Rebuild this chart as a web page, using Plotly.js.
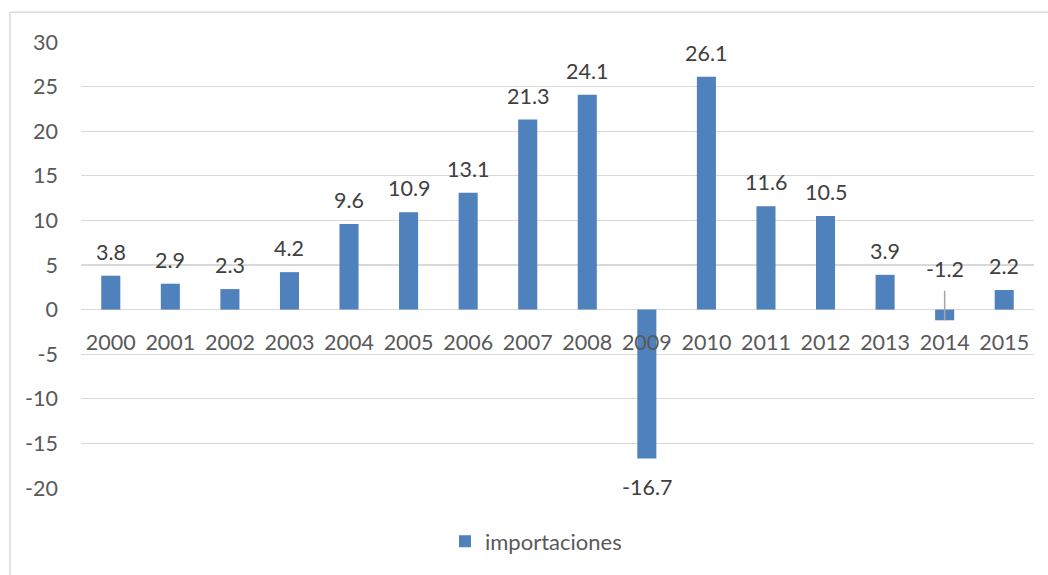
<!DOCTYPE html>
<html>
<head>
<meta charset="utf-8">
<script src="https://cdn.plot.ly/plotly-3.0.1.min.js"></script>
<style>html,body{margin:0;padding:0;background:#fff;}#chart{width:1048px;height:575px;}</style>
</head>
<body>
<div id="chart"></div>
<script>
const years = ["2000","2001","2002","2003","2004","2005","2006","2007","2008","2009","2010","2011","2012","2013","2014","2015"];
const importaciones = [3.8, 2.9, 2.3, 4.2, 9.6, 10.9, 13.1, 21.3, 24.1, -16.7, 26.1, 11.6, 10.5, 3.9, -1.2, 2.2];
const seriesName = "importaciones";
const yTickVals = [-20, -15, -10, -5, 0, 5, 10, 15, 20, 25, 30];
const yTickText = ["-20", "-15", "-10", "-5", "0", "5", "10", "15", "20", "25", "30"];

const FONT = "Lato, 'Open Sans', sans-serif";
const FS = 21.5;
const W = 1048, H = 575;
const M = {l: 81, r: 14, t: 42, b: 83};
const pw = W - M.l - M.r, ph = H - M.t - M.b;
const px2x = p => (p - M.l) / pw;
const py2y = p => (H - M.b - p) / ph;

const annotations = years.map((yr, i) => {
  const v = importaciones[i];
  const label = v.toFixed(1);
  if (yr === "2014") {
    return {x: i, y: v, xref: 'x', yref: 'y', text: label, showarrow: true,
      arrowhead: 0, arrowwidth: 1.5, arrowcolor: '#A6A6A6', ax: 0, ay: -51,
      startstandoff: 7, font: {family: FONT, size: FS, color: '#404040'}};
  }
  return {x: i, y: v, xref: 'x', yref: 'y', text: label, showarrow: false,
    yshift: v >= 0 ? 24 : -28, font: {family: FONT, size: FS, color: '#404040'}};
});

const data = [{
  type: 'bar', x: years, y: importaciones, name: seriesName,
  marker: {color: '#4F81BD'}, showlegend: true, hoverinfo: 'x+y'
}];

const layout = {
  width: W, height: H,
  margin: M,
  paper_bgcolor: '#fff', plot_bgcolor: '#fff',
  font: {family: FONT, size: FS, color: '#595959'},
  bargap: 0.68,
  xaxis: {type: 'category', range: [-0.5, years.length - 0.5], autorange: false,
    anchor: 'free', position: 0.4, showgrid: false,
    showline: false, ticks: '', ticklabelstandoff: 18, zeroline: false,
    tickfont: {family: FONT, size: FS, color: '#595959'}},
  yaxis: {range: [-20, 30], autorange: false, tickmode: 'array', tickvals: yTickVals, ticktext: yTickText,
    showgrid: true, gridcolor: '#D9D9D9',
    gridwidth: 1.3, zeroline: true, zerolinecolor: '#D9D9D9', zerolinewidth: 1.3,
    ticks: '', ticklabelstandoff: 22, showline: false,
    tickfont: {family: FONT, size: FS, color: '#595959'}},
  legend: {orientation: 'h', x: px2x(445), xanchor: 'left', y: py2y(546), yanchor: 'middle',
    font: {family: FONT, size: 22, color: '#595959'}, bgcolor: 'rgba(0,0,0,0)'},
  annotations: annotations,
  shapes: [
    {type: 'line', xref: 'paper', yref: 'paper', x0: px2x(10), x1: px2x(10), y0: py2y(12), y1: py2y(600), line: {color: '#D9D9D9', width: 1.5}},
    {type: 'line', xref: 'paper', yref: 'paper', x0: px2x(10), x1: px2x(1060), y0: py2y(12), y1: py2y(12), line: {color: '#D9D9D9', width: 1.5}}
  ]
};

Plotly.newPlot('chart', data, layout, {displayModeBar: false, staticPlot: true});
</script>
</body>
</html>
